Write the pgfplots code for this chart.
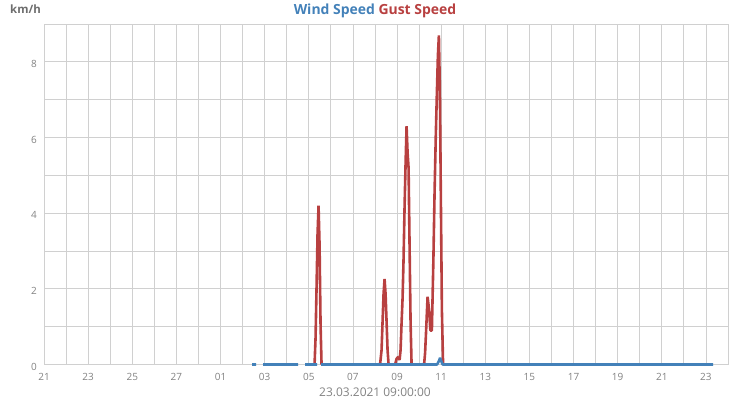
\documentclass[border=0pt]{standalone}
\usepackage{pgfplots}
\pgfplotsset{compat=1.18}
\usepackage{fontspec}
\setmainfont{Open Sans}
\definecolor{windblue}{RGB}{67,129,185}
\definecolor{gustred}{RGB}{184,64,64}
\definecolor{gridgray}{RGB}{208,208,208}
\definecolor{labgray}{RGB}{130,130,130}
\definecolor{titgray}{RGB}{110,110,110}
\begin{document}
\begin{tikzpicture}
\useasboundingbox (0,0) rectangle (750bp,400bp);
\begin{axis}[
  at={(44bp,35.5bp)}, anchor=south west,
  scale only axis, width=684bp, height=340.5bp,
  xmin=0, xmax=31, ymin=0, ymax=9,
  xtick={0,2,...,30},
  xticklabels={21,23,25,27,01,03,05,07,09,11,13,15,17,19,21,23},
  minor xtick={1,3,...,31},
  ytick={0,2,...,8}, minor ytick={1,3,...,9},
  grid=both,
  grid style={draw=gridgray, line width=0.8bp},
  minor grid style={draw=gridgray, line width=0.8bp},
  axis line style={draw=gridgray, line width=0.8bp},
  major tick length=0pt, minor tick length=0pt,
  tick label style={font=\fontsize{10}{12}\selectfont, text=labgray},
  xticklabel style={anchor=north, inner sep=0pt, yshift=-8.5bp},
  yticklabel style={anchor=east, inner sep=0pt, xshift=-7bp, yshift=-2bp},
  /pgf/number format/assume math mode=true,
  unbounded coords=jump,
  clip=false,
]
% Gust Speed
\addplot[gustred, line width=2.6bp, line join=bevel, mark=none] coordinates {
 (12.262,0) (12.307,0.7) (12.353,2.05) (12.398,3.45) (12.443,4.2) (12.489,3.15) (12.534,1.05) (12.579,0)
 (12.6,nan)
 (15.231,0) (15.299,0.38) (15.344,1.13) (15.390,1.87) (15.435,2.26) (15.480,1.87) (15.526,1.13) (15.571,0.38) (15.617,0)
 (15.7,nan)
 (15.911,0) (15.979,0.15) (16.047,0.2) (16.115,0.12) (16.160,0.38) (16.206,1.1) (16.251,1.75) (16.296,2.8) (16.342,4.18) (16.387,5.3) (16.432,6.3) (16.478,5.6) (16.523,5.2) (16.568,3.14) (16.614,1.1) (16.659,0)
 (16.8,nan)
 (17.226,0) (17.271,0.3) (17.316,0.87) (17.384,1.79) (17.452,1.45) (17.511,0.9) (17.579,0.9) (17.647,2.75) (17.702,4.57) (17.756,6.03) (17.802,7.09) (17.851,8.15) (17.897,8.7) (17.942,7.24) (17.987,4.36) (18.033,1.44) (18.087,0)
};
% Wind Speed
\addplot[windblue, line width=2.6bp, line join=bevel, mark=none] coordinates {
 (9.429,0) (9.610,0)
 (9.7,nan)
 (9.927,0) (11.514,0)
 (11.6,nan)
 (11.831,0) (12.375,0)
 (12.45,nan)
 (12.557,0) (17.815,0) (17.906,0.1) (17.951,0.18) (17.997,0.1) (18.065,0) (30.327,0)
};
\end{axis}
\node[anchor=base, font=\fontsize{14}{16}\selectfont\bfseries] at (375bp,385bp)
  {\textcolor{windblue}{Wind Speed} \textcolor{gustred}{Gust Speed}};
\node[anchor=base west, inner sep=0pt, font=\fontsize{11.5}{13}\selectfont\bfseries, text=titgray] at (10bp,386bp) {km/h};
\node[anchor=base, inner sep=0pt, font=\fontsize{12}{14}\selectfont, text=labgray] at (375bp,3.5bp) {23.03.2021 09:00:00};
\end{tikzpicture}
\end{document}
